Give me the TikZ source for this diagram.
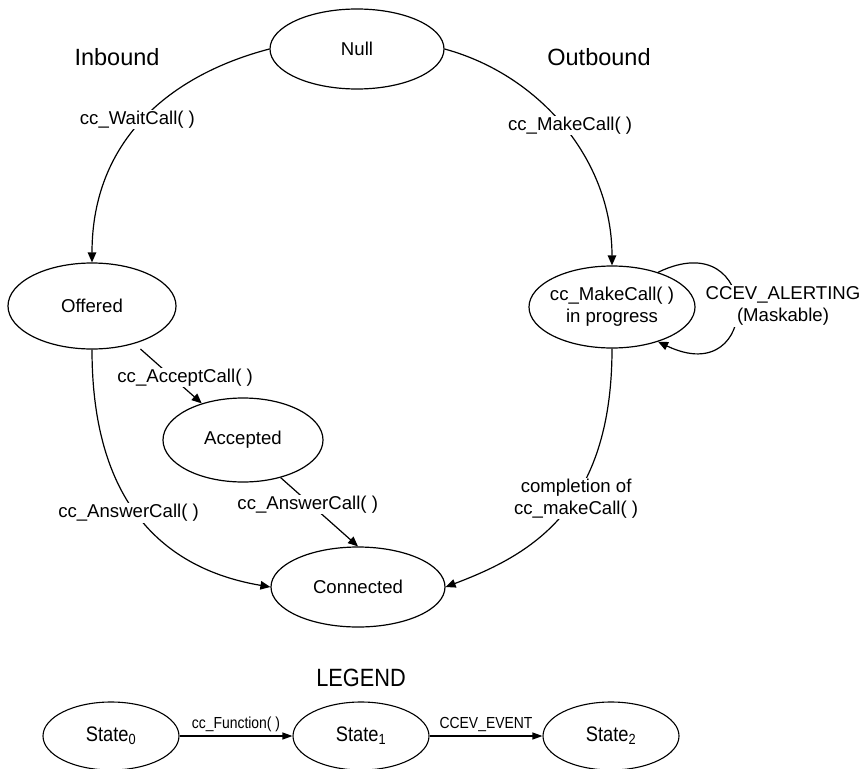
\documentclass[tikz,border=0pt]{standalone}
\usepackage{fontspec}
\usepackage{graphicx}
\setmainfont{Liberation Sans}
\usetikzlibrary{shapes.geometric,arrows.meta}
\newcommand{\fsz}[1]{\fontsize{#1}{1.2\dimexpr #1pt\relax}\selectfont}
\newcommand{\cnd}[1]{\scalebox{0.87}[1]{#1}}
\begin{document}
\begin{tikzpicture}[x=1pt,y=-1pt,
  st/.style={ellipse, draw, line width=1.2pt, inner sep=0pt, font=\fsz{18.6}},
  lst/.style={ellipse, draw, line width=1.1pt, inner sep=0pt, minimum width=136pt, minimum height=68pt, font=\fsz{21}},
  lbl/.style={fill=white, inner sep=1pt, font=\fsz{18.6}, align=center},
  llbl/.style={inner sep=1pt, font=\fsz{16}},
  hdr/.style={inner sep=0pt, font=\fsz{23.5}},
  edge/.style={line width=1.2pt, -{Triangle[length=10pt,width=8.5pt]}},
  ledge/.style={line width=1.1pt, -{Triangle[length=10pt,width=7pt]}}
]
\useasboundingbox (0,0) rectangle (864,768);

% states
\node[st, minimum width=174pt, minimum height=80pt] (null) at (357,49) {\makebox[0pt]{Null}};
\node[st, minimum width=168pt, minimum height=86pt] (off) at (92,306) {\makebox[0pt]{Offered}};
\node[st, minimum width=160pt, minimum height=84pt] (acc) at (243,440) {\makebox[0pt]{Accepted}};
\node[st, minimum width=174pt, minimum height=80pt] (con) at (358,587) {\makebox[0pt]{Connected}};
\node[st, minimum width=166pt, minimum height=82pt] (mip) at (612,307) {\makebox[0pt]{\begin{tabular}{@{}c@{}}cc\_MakeCall( )\\in progress\end{tabular}}};

% headings
\node[hdr] (inb) at (117,57) {Inbound};
\node[hdr] (outb) at (599,57) {Outbound};

% transitions
\draw[edge] (null.west) .. controls (170,75) and (92,140) .. (off.north)
  node[lbl, pos=0.5, xshift=-6pt] (l1) {cc\_WaitCall( )};
\draw[edge] (null.east) .. controls (540,75) and (612,160) .. (mip.north)
  node[lbl, pos=0.5, xshift=6pt, yshift=2pt] (l2) {cc\_MakeCall( )};
\draw[edge, shorten <=8pt] (off) -- (acc)
  node[lbl, pos=0.5, xshift=17pt, yshift=-4pt] (l3) {cc\_AcceptCall( )};
\draw[edge] (off.south) .. controls (92,510) and (170,570) .. (con.west)
  node[lbl, pos=0.44, xshift=-4pt, yshift=-5pt] (l4) {cc\_AnswerCall( )};
\draw[edge] (acc.-45) -- (con.north)
  node[lbl, pos=0.35, yshift=-3pt] (l5) {cc\_AnswerCall( )};
\draw[edge] (mip.south) .. controls (612,510) and (530,555) .. (con.east)
  node[lbl, pos=0.41, yshift=-3pt] (l6) {completion of\\cc\_makeCall( )};
\draw[edge] (mip.37) .. controls (762,222) and (763,392) .. (mip.-37);
\node[lbl] (l7) at (783,306) {CCEV\_ALERTING\\(Maskable)};

% legend
\node[inner sep=0pt, font=\fsz{25}] (leg) at (361,678) {\cnd{LEGEND}};
\node[lst] (s0) at (111,736) {\makebox[0pt]{\cnd{State\textsubscript{0}}}};
\node[lst] (s1) at (361,736) {\makebox[0pt]{\cnd{State\textsubscript{1}}}};
\node[lst] (s2) at (611,736) {\makebox[0pt]{\cnd{State\textsubscript{2}}}};
\draw[ledge] (s0) -- (s1) node[llbl, midway, above=3pt] (lf) {\cnd{cc\_Function( )}};
\draw[ledge] (s1) -- (s2) node[llbl, midway, above=3pt] (le) {\cnd{CCEV\_EVENT}};
\end{tikzpicture}
\end{document}
